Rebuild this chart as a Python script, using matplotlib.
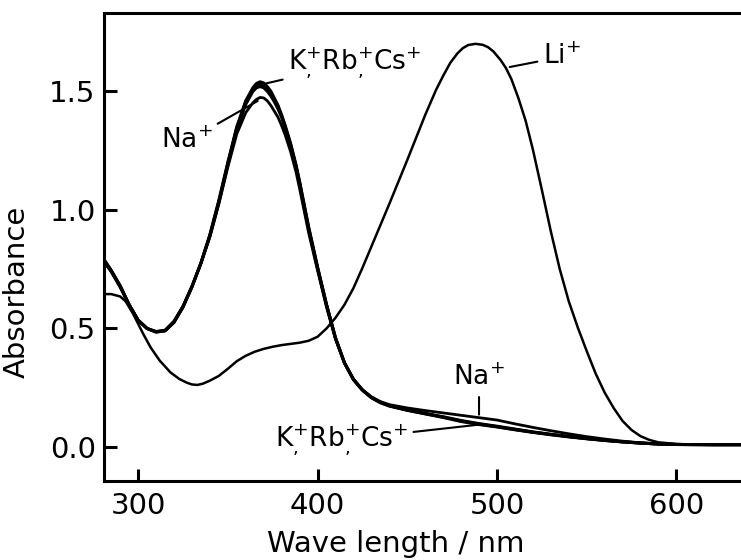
import matplotlib
matplotlib.use("Agg")
import matplotlib.pyplot as plt

# ---- data ----
wl_k = [281, 285, 290, 295, 300, 305, 310, 315, 320, 325, 330, 335, 340, 345, 350,
        355, 360, 364, 366, 368, 370, 372, 374, 376, 378, 380, 382, 385, 388, 390,
        395, 400, 405, 410, 415, 420, 425, 430, 435, 440, 450, 460, 470, 480, 490,
        500, 510, 520, 530, 540, 550, 560, 570, 580, 590, 600, 620, 636]
abs_k = [0.79, 0.745, 0.68, 0.60, 0.535, 0.50, 0.485, 0.49, 0.525, 0.59, 0.675, 0.775,
         0.895, 1.04, 1.20, 1.35, 1.46, 1.515, 1.533, 1.54, 1.535, 1.52, 1.50, 1.47,
         1.44, 1.40, 1.355, 1.28, 1.19, 1.12, 0.93, 0.76, 0.60, 0.46, 0.355, 0.285,
         0.24, 0.208, 0.187, 0.173, 0.155, 0.14, 0.125, 0.108, 0.095, 0.085, 0.073,
         0.062, 0.052, 0.043, 0.035, 0.028, 0.022, 0.017, 0.013, 0.011, 0.01, 0.01]
abs_rb = [0.79, 0.745, 0.68, 0.60, 0.535, 0.50, 0.485, 0.49, 0.527, 0.59, 0.675, 0.775,
          0.893, 1.035, 1.195, 1.345, 1.455, 1.51, 1.525, 1.53, 1.525, 1.51, 1.49, 1.465,
          1.435, 1.395, 1.35, 1.275, 1.185, 1.115, 0.925, 0.755, 0.60, 0.46, 0.355,
          0.285, 0.24, 0.209, 0.188, 0.174, 0.156, 0.141, 0.126, 0.110, 0.097, 0.086,
          0.074, 0.063, 0.053, 0.044, 0.036, 0.028, 0.022, 0.017, 0.013, 0.011, 0.01,
          0.01]
abs_cs = [0.785, 0.74, 0.675, 0.60, 0.535, 0.50, 0.487, 0.492, 0.53, 0.593, 0.677, 0.775,
          0.89, 1.03, 1.19, 1.34, 1.445, 1.50, 1.515, 1.52, 1.515, 1.50, 1.48, 1.455,
          1.425, 1.39, 1.345, 1.27, 1.18, 1.11, 0.92, 0.755, 0.60, 0.46, 0.355, 0.285,
          0.241, 0.21, 0.189, 0.175, 0.157, 0.142, 0.128, 0.112, 0.099, 0.088, 0.076,
          0.064, 0.054, 0.045, 0.036, 0.029, 0.022, 0.017, 0.013, 0.011, 0.01, 0.01]
abs_na = [0.78, 0.74, 0.675, 0.60, 0.535, 0.50, 0.487, 0.492, 0.53, 0.593, 0.677, 0.775,
          0.885, 1.025, 1.18, 1.32, 1.41, 1.452, 1.466, 1.474, 1.472, 1.46, 1.44, 1.415,
          1.39, 1.355, 1.315, 1.245, 1.16, 1.09, 0.905, 0.745, 0.59, 0.455, 0.355, 0.287,
          0.242, 0.212, 0.192, 0.179, 0.165, 0.154, 0.144, 0.134, 0.124, 0.114, 0.098,
          0.083, 0.069, 0.056, 0.044, 0.034, 0.025, 0.018, 0.013, 0.011, 0.01, 0.01]

wl_li = [281, 285, 290, 293, 297, 300, 303, 307, 312, 318, 323, 327, 330, 333, 336,
         340, 345, 350, 355, 360, 365, 370, 375, 380, 385, 390, 395, 400, 405, 410,
         415, 420, 425, 430, 435, 440, 450, 460, 466, 470, 474, 478, 481, 484, 488,
         492, 495, 498, 502, 505, 508, 512, 516, 520, 525, 530, 535, 540, 545, 550,
         555, 560, 565, 570, 575, 580, 585, 590, 600, 610, 620, 636]
abs_li = [0.645, 0.645, 0.635, 0.615, 0.565, 0.52, 0.475, 0.42, 0.365, 0.315, 0.287,
          0.272, 0.264, 0.262, 0.267, 0.28, 0.30, 0.33, 0.362, 0.385, 0.402, 0.414, 0.423,
          0.43, 0.435, 0.44, 0.448, 0.465, 0.50, 0.545, 0.60, 0.67, 0.755, 0.845, 0.935,
          1.025, 1.21, 1.40, 1.505, 1.565, 1.62, 1.66, 1.682, 1.695, 1.70, 1.696, 1.686,
          1.668, 1.632, 1.598, 1.552, 1.47, 1.375, 1.255, 1.085, 0.91, 0.75, 0.615,
          0.505, 0.405, 0.31, 0.23, 0.165, 0.11, 0.072, 0.046, 0.03, 0.02, 0.013, 0.01,
          0.01, 0.01]

x_ticks = [300, 400, 500, 600]
y_ticks = [0.0, 0.5, 1.0, 1.5]

# ---- figure ----
plt.rcParams['font.family'] = ['DejaVu Sans']
fig = plt.figure(figsize=(7.41, 5.60), dpi=100)
ax = fig.add_axes([104/741, 1-481/560, 1-104/741, (481-13)/560])

kw = dict(color='black', solid_capstyle='round', solid_joinstyle='round')
ax.plot(wl_li, abs_li, lw=1.8, **kw)
ax.plot(wl_k, abs_na, lw=2.0, **kw)
ax.plot(wl_k, abs_cs, lw=2.2, **kw)
ax.plot(wl_k, abs_rb, lw=2.2, **kw)
ax.plot(wl_k, abs_k, lw=2.2, **kw)

ax.set_xlim(281, 636)
ax.set_ylim(-0.143, 1.83)
ax.set_xticks(x_ticks)
ax.set_xticklabels([str(v) for v in x_ticks])
ax.set_yticks(y_ticks)
ax.set_yticklabels([f"{v:.1f}" for v in y_ticks])

for side in ['left', 'bottom', 'top']:
    ax.spines[side].set_linewidth(2.2)
ax.spines['right'].set_visible(False)
ax.tick_params(direction='in', length=9, width=2.2, labelsize=21, pad=6)
ax.tick_params(axis='x', pad=8)

ax.set_xlabel('Wave length / nm', fontsize=21)
ax.xaxis.set_label_coords(0.458, -0.105)
ax.xaxis.label.set_va('top')
ax.set_ylabel('Absorbance', fontsize=21)
ax.yaxis.set_label_coords(-0.115, 0.404)

lab = dict(fontsize=19, color='black')
line = dict(color='black', lw=1.5)

# labels with leader lines
ax.annotate(r'K$^{+}_{,}$Rb$^{+}_{,}$Cs$^{+}$', xy=(369.6, 1.53), xytext=(383.6, 1.62),
            ha='left', va='center', arrowprops=dict(arrowstyle='-', **line), **lab)
ax.annotate(r'Na$^{+}$', xy=(368, 1.465), xytext=(341.8, 1.29),
            ha='right', va='center', arrowprops=dict(arrowstyle='-', **line), **lab)
ax.annotate(r'Li$^{+}$', xy=(505.6, 1.60), xytext=(525.6, 1.645),
            ha='left', va='center', arrowprops=dict(arrowstyle='-', **line), **lab)
ax.annotate(r'Na$^{+}$', xy=(490, 0.125), xytext=(490, 0.29),
            ha='center', va='center', arrowprops=dict(arrowstyle='-', **line), **lab)
ax.annotate(r'K$^{+}_{,}$Rb$^{+}_{,}$Cs$^{+}$', xy=(490.5, 0.095), xytext=(450.4, 0.03),
            ha='right', va='center', arrowprops=dict(arrowstyle='-', **line), **lab)

fig.savefig('out.png', dpi=100)
